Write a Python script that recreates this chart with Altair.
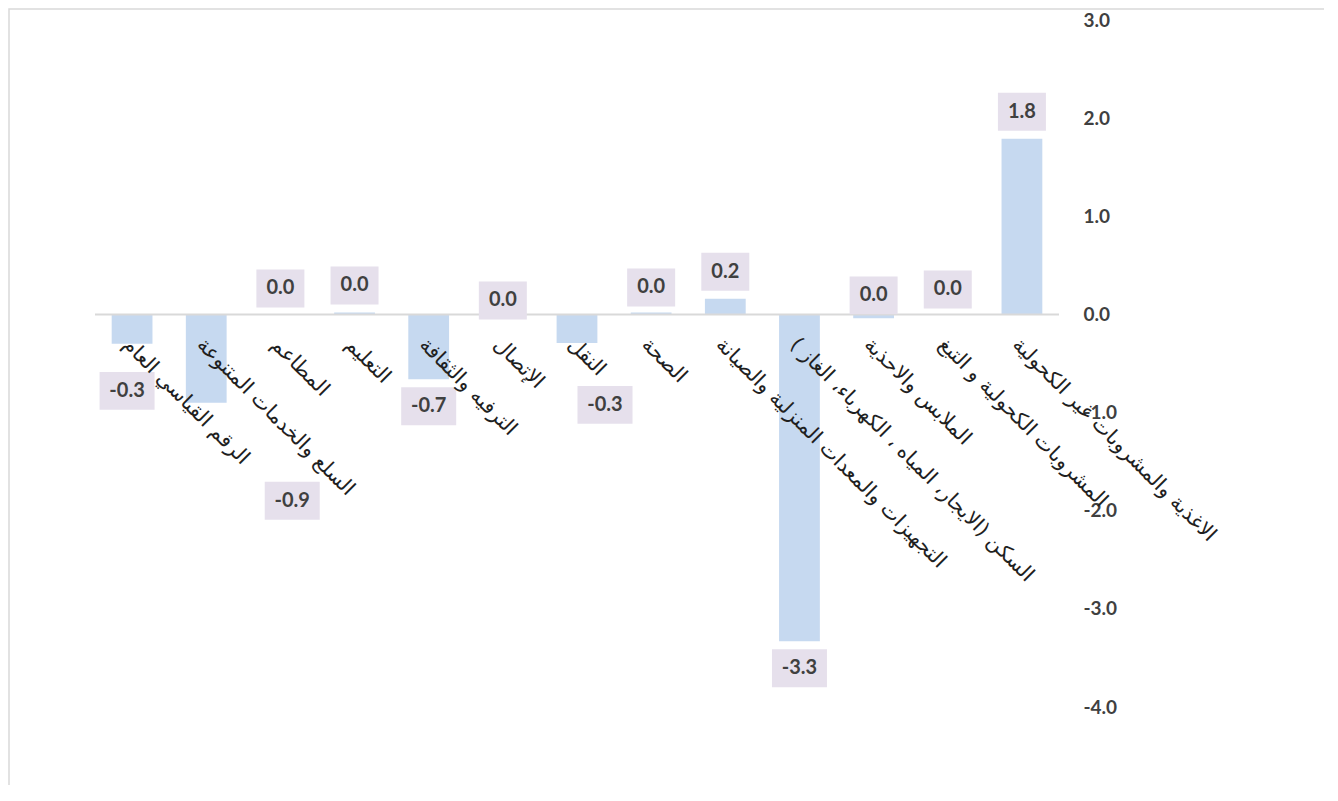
import altair as alt
import pandas as pd

# categories listed left to right as drawn (Arabic chart reads right to left)
categories = [
    "الرقم القياسي العام",
    "السلع والخدمات المتنوعة",
    "المطاعم",
    "التعليم",
    "الترفيه والثقافة",
    "الإتصال",
    "النقل",
    "الصحة",
    "التجهيزات والمعدات المنزلية والصيانة",
    "السكن (الايجار، المياه ، الكهرباء، الغاز )",
    "الملابس والاحذية",
    "المشروبات الكحولية و التبغ",
    "الاغذية والمشروبات غير الكحولية",
]
values = [-0.30, -0.90, 0.00, 0.02, -0.66, 0.00, -0.29, 0.02, 0.16, -3.33, -0.04, 0.00, 1.79]
y_ticks = [-4, -3, -2, -1, 0, 1, 2, 3]

# layout only: pixel nudges of the value-label boxes relative to the bar end
label_nudge_x = [-5, 86, 0, 0, 0, 0, 28, 0, 0, 0, 0, 0, 0]
label_nudge_y = [47, 98, -26, -27, 27, -14, 62, -25, -27, 27, -23, -25, -27]

df = pd.DataFrame({"cat": categories, "value": values,
                   "ldx": label_nudge_x, "ldy": label_nudge_y})

BAR = "#c6d9f0"
BOX = "#e6e0ec"
TXT = "#404040"
NUMFONT = "Lato"

x_enc = alt.X("cat:N", sort=categories, axis=None,
              scale=alt.Scale(paddingInner=0.45, paddingOuter=0.225))
y_scale = alt.Scale(domain=[-4, 3], nice=False, zero=False)

base = alt.Chart(df).transform_calculate(
    lbl="abs(datum.value) < 0.05 ? '0.0' : (datum.value < 0 ? '-' : '') + format(abs(datum.value), '.1f')"
)

frame = base.mark_rect(fill=None, stroke="#d9d9d9", strokeWidth=1.5).encode(
    x=alt.value(-86), x2=alt.value(1232), y=alt.value(-11), y2=alt.value(800)
).transform_filter("datum.cat == '" + categories[0] + "'")

bars = base.mark_bar(color=BAR).encode(
    x=x_enc,
    y=alt.Y("value:Q", scale=y_scale,
            axis=alt.Axis(orient="right", values=y_ticks, format=".1f",
                          labelExpr="(datum.value < 0 ? '-' : '') + format(abs(datum.value), '.1f')",
                          grid=False, domain=False, ticks=False,
                          labelPadding=24, labelAlign="left",
                          labelFont=NUMFONT, labelFontSize=19,
                          labelFontWeight="bold", labelColor=TXT, title=None)),
)

zero_line = alt.Chart(pd.DataFrame({"z": [0]})).mark_rule(
    color="#d9d9d9", strokeWidth=2
).encode(y=alt.Y("z:Q", scale=y_scale))

neg_f = "datum.lbl[0] == '-'"
pos_f = "datum.lbl[0] != '-'"

box_pos = base.transform_filter(pos_f).mark_point(
    shape="M-1,-0.79L1,-0.79L1,0.79L-1,0.79Z", size=2304,
    filled=True, color=BOX, opacity=1,
    xOffset={"expr": "datum.ldx"}, yOffset={"expr": "datum.ldy"}
).encode(x=x_enc, y=alt.Y("value:Q", scale=y_scale))

box_neg = base.transform_filter(neg_f).mark_point(
    shape="M-1,-0.69L1,-0.69L1,0.69L-1,0.69Z", size=3025,
    filled=True, color=BOX, opacity=1,
    xOffset={"expr": "datum.ldx"}, yOffset={"expr": "datum.ldy"}
).encode(x=x_enc, y=alt.Y("value:Q", scale=y_scale))

txt = base.mark_text(
    font=NUMFONT, fontSize=20, fontWeight="bold", color=TXT,
    baseline="middle", align="center",
    xOffset={"expr": "datum.ldx"}, yOffset={"expr": "datum.ldy"}
).encode(x=x_enc, y=alt.Y("value:Q", scale=y_scale), text="lbl:N")

cat_labels = base.transform_calculate(z="0").mark_text(
    font="DejaVu Sans", fontSize=20.5, color="#1f1f1f",
    angle=45, align="left", baseline="top", yOffset=20, xOffset=1
).encode(x=x_enc, y=alt.Y("z:Q", scale=y_scale), text="cat:N")

chart = alt.layer(
    frame, bars, zero_line, box_pos, box_neg, txt, cat_labels
).properties(
    width=964, height=687,
    background="white",
    autosize=alt.AutoSizeParams(type="none"),
    padding={"left": 87, "top": 12, "right": 265, "bottom": 78},
).configure_view(strokeWidth=0, stroke="transparent")

chart.save("out.html", embed_options={"renderer": "svg", "actions": False})
